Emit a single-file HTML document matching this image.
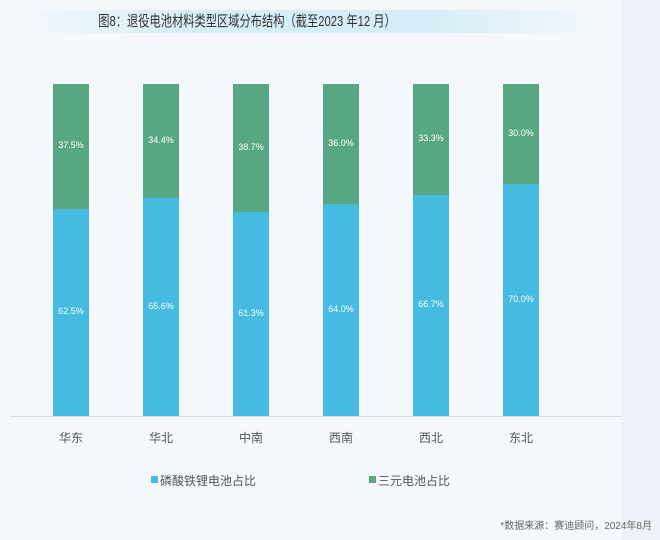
<!DOCTYPE html>
<html><head><meta charset="utf-8"><style>
body{margin:0;width:660px;height:540px;background:#f4f7fb;position:relative;overflow:hidden;font-family:"Liberation Sans","Noto Sans CJK SC",sans-serif}
.rp{position:absolute;left:622px;top:0;width:38px;height:540px;background:#eef2f8}
.title{position:absolute;left:15px;top:10px;width:590px;height:23px;background:linear-gradient(90deg,rgba(210,235,245,0),#d6eef7 30%,#d6eef7 70%,rgba(210,235,245,0))}
.tt{position:absolute;left:247px;top:10px;transform:translateX(-50%) scaleX(0.75);white-space:nowrap;font-size:15px;line-height:23px;color:#333}
.bar{position:absolute;width:36px}
.g{background:#57a882}.b{background:#45bbe2}
.lbl{position:absolute;width:36px;text-align:center;color:#fff;font-size:9px}
.x{position:absolute;width:60px;text-align:center;font-size:12px;color:#555;top:429px}
.axis{position:absolute;left:10px;width:612px;top:416px;height:1px;background:#d8dde2}
</style></head><body>
<div class="rp"></div>
<div class="title"></div>
<div class="tt">图8：退役电池材料类型区域分布结构（截至2023 年12 月）</div>
<div class="axis"></div>
<div id="c"></div>
<div style="position:absolute;left:151px;top:476px;width:7px;height:7px;background:#45bbe2"></div>
<div style="position:absolute;left:160px;top:472px;font-size:12px;color:#555">磷酸铁锂电池占比</div>
<div style="position:absolute;left:369px;top:476px;width:7px;height:7px;background:#57a882"></div>
<div style="position:absolute;left:378px;top:472px;font-size:12px;color:#555">三元电池占比</div>
<div style="position:absolute;right:8px;top:517px;font-size:10px;color:#666">*数据来源：赛迪顾问，2024年8月</div>
<script>
(function(){
var n=["华东","华北","中南","西南","西北","东北"],g=[37.5,34.4,38.7,36.0,33.3,30.0],h="";
for(var i=0;i<6;i++){var x=53+90*i,t0=84,H=332,gh=H*g[i]/100,b=100-g[i];
h+='<div class="bar g" style="left:'+x+'px;top:'+t0+'px;height:'+gh+'px"></div>';
h+='<div class="bar b" style="left:'+x+'px;top:'+(t0+gh)+'px;height:'+(H-gh)+'px"></div>';
h+='<div class="lbl" style="left:'+x+'px;top:'+(t0+gh/2-6)+'px">'+g[i].toFixed(1)+'%</div>';
h+='<div class="lbl" style="left:'+x+'px;top:'+(t0+gh+(H-gh)/2-6)+'px">'+b.toFixed(1)+'%</div>';
h+='<div class="x" style="left:'+(x-12)+'px">'+n[i]+'</div>';}
document.getElementById("c").innerHTML=h;
})();
</script>
</body></html>
